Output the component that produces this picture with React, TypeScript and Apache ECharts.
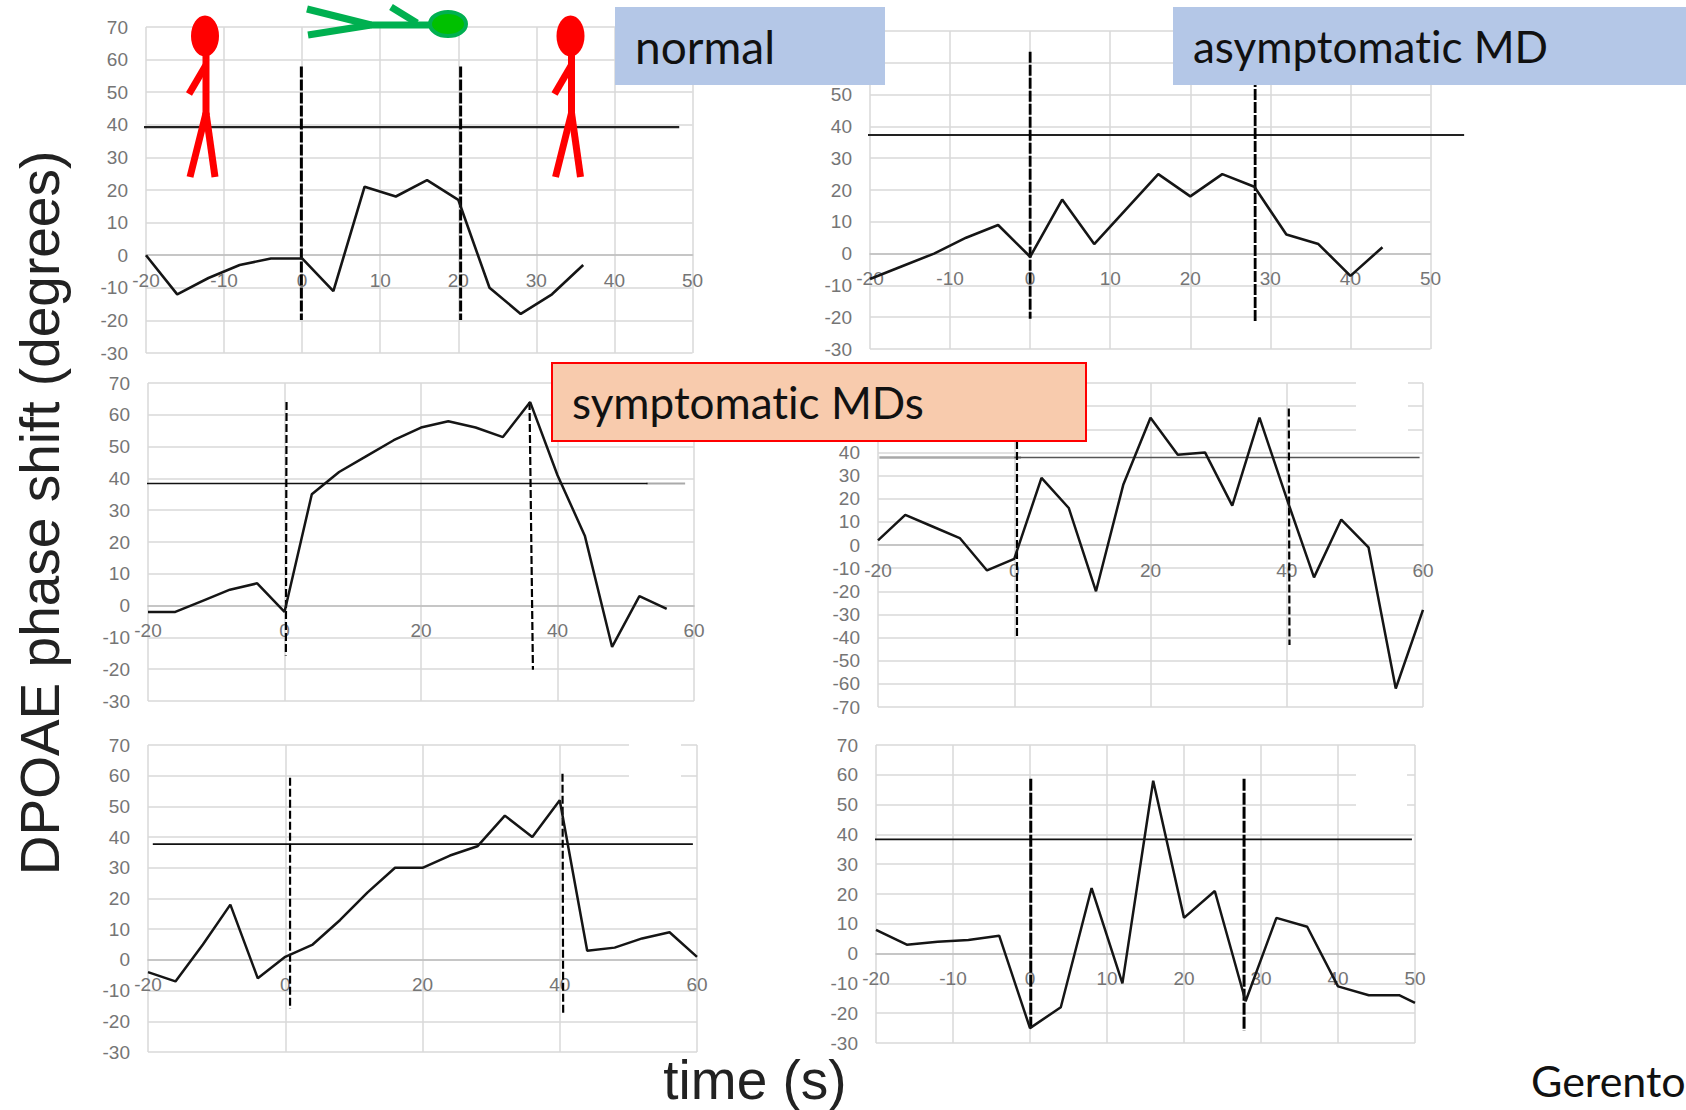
import React, { useEffect, useRef } from "react";
import * as echarts from "echarts";

// sampling times (s)
const timesTo36 = [-20, -16, -12, -8, -4, 0, 4, 8, 12, 16, 20, 24, 28, 32, 36];
const timesTo44 = [-20, -16, -12, -8, -4, 0, 4, 8, 12, 16, 20, 24, 28, 32, 36, 40, 44];
const timesTo56 = [-20, -16, -12, -8, -4, 0, 4, 8, 12, 16, 20, 24, 28, 32, 36, 40, 44, 48, 52, 56];
const timesTo60 = [-20, -16, -12, -8, -4, 0, 4, 8, 12, 16, 20, 24, 28, 32, 36, 40, 44, 48, 52, 56, 60];
const timesTo50 = [-20, -16, -12, -8, -4, 0, 4, 8, 12, 16, 20, 24, 28, 32, 36, 40, 44, 48, 50];

// phase shift (degrees)
const normalValues = [0, -12, -7, -3, -1, -1, -11, 21, 18, 23, 17, -10, -18, -12, -3];
const asymptomaticValues = [-8, -4, 0, 5, 9, -1, 17, 3, 14, 25, 18, 25, 21, 6, 3, -7, 2];
const symptomaticAValues = [-2, -2, 1.5, 5, 7, -2, 35, 42, 47, 52, 56, 58, 56, 53, 64, 41, 22, -13, 3, -1];
const symptomaticBValues = [2, 13, 8, 3, -11, -6, 29, 16, -20, 26, 55, 39, 40, 17, 55, 20, -14, 11, -1, -62, -28];
const symptomaticCValues = [-4, -7, 5, 18, -6, 1, 5, 13, 22, 30, 30, 34, 37, 47, 40, 52, 3, 4, 7, 9, 1];
const symptomaticDValues = [8, 3, 4, 4.6, 6, -25, -18, 22, -10, 58, 12, 21, -16, 12, 9, -11, -14, -14, -16.5];

// horizontal reference segments: [x0, x1, level]
const normalRef = [-20.3, 48.3, 39.3];
const asymptomaticRef = [-20.3, 54.2, 37.3];
const symAGrayRef = [53, 58.7, 38.4];
const symARef = [-20.5, 53.2, 38.4];
const symBGrayRef = [-19.8, 1, 37.8];
const symBRef = [0, 59.5, 37.8];
const symCRef = [-19.3, 59.4, 37.7];
const symDRef = [-20.5, 49.6, 38.3];

// vertical event lines: [xTop, yTop, xBottom, yBottom]
const normalEvents = [[-0.1, 57.9, -0.1, -19.9], [20.3, 57.9, 20.3, -19.9]];
const asymptomaticEvents = [[0, 63.5, 0, -20.5], [28.1, 64, 28.1, -21.8]];
const symAEvents = [[0.3, 64, 0.2, -15.7], [35.9, 64, 36.4, -20.2]];
const symBEvents = [[0.4, 64, 0.4, -39.6], [40.3, 59, 40.4, -43.2]];
const symCEvents = [[0.7, 59.3, 0.7, -16], [40.4, 60.6, 40.5, -17.6]];
const symDEvents = [[0.1, 58.7, 0.1, -25], [27.8, 58.7, 27.8, -26]];

const panels = [
  { box: [146, 27, 692.5, 353], xr: [-20, 50, 10], yMin: -30, times: timesTo36, values: normalValues, refs: [[normalRef, "#222", 2.4]], events: normalEvents, ew: 3, dash: [11, 2], lw: 2.6 },
  { box: [870, 31, 1430.5, 349], xr: [-20, 50, 10], yMin: -30, times: timesTo44, values: asymptomaticValues, refs: [[asymptomaticRef, "#222", 2.2, 6]], events: asymptomaticEvents, ew: 2.8, dash: [11, 2], lw: 2.6 },
  { box: [148, 383, 694, 701], xr: [-20, 60, 20], yMin: -30, times: timesTo56, values: symptomaticAValues, refs: [[symAGrayRef, "#aaa", 1.8], [symARef, "#111", 1.6]], events: symAEvents, ew: 2.2, dash: [8, 3], lw: 2.5 },
  { box: [878, 383, 1423, 707], xr: [-20, 60, 20], yMin: -70, times: timesTo60, values: symptomaticBValues, refs: [[symBGrayRef, "#a8a8a8", 2.6], [symBRef, "#555", 1.6]], events: symBEvents, ew: 2.2, dash: [8, 3], lw: 2.5 },
  { box: [148, 745, 697, 1052], xr: [-20, 60, 20], yMin: -30, times: timesTo60, values: symptomaticCValues, refs: [[symCRef, "#111", 1.6]], events: symCEvents, ew: 2.2, dash: [8, 3], lw: 2.5 },
  { box: [876, 745, 1415, 1043], xr: [-20, 50, 10], yMin: -30, times: timesTo50, values: symptomaticDValues, refs: [[symDRef, "#111", 1.8]], events: symDEvents, ew: 3, dash: [12, 2], lw: 2.5 },
];

const GRID = "#d9d9d9";
const LABEL = "#757575";
const SANS = "Liberation Sans";

function redPerson(cx: number) {
  const stroke = { stroke: "#ff0000", lineWidth: 7 };
  const seg = (x1: number, y1: number, x2: number, y2: number) => ({
    type: "line", z: 50, shape: { x1, y1, x2, y2 }, style: stroke,
  });
  return [
    { type: "ellipse", z: 50, shape: { cx, cy: 36, rx: 14, ry: 20.5 }, style: { fill: "#ff0000" } },
    seg(cx + 1, 50, cx + 1, 115),
    seg(cx + 1, 65, cx - 16, 94),
    seg(cx + 1, 113, cx - 15, 177),
    seg(cx + 1, 113, cx + 10, 177),
  ];
}

function greenPerson() {
  const stroke = { stroke: "#00b050", lineWidth: 7 };
  const seg = (x1: number, y1: number, x2: number, y2: number) => ({
    type: "line", z: 50, shape: { x1, y1, x2, y2 }, style: stroke,
  });
  return [
    seg(371, 25, 430, 25),
    seg(371, 25, 307, 9),
    seg(371, 25, 308, 35),
    seg(417, 23, 391, 7),
    { type: "ellipse", z: 50, shape: { cx: 448, cy: 24, rx: 18, ry: 12 }, style: { fill: "#00c000", stroke: "#00b050", lineWidth: 4 } },
  ];
}

function labelBox(x: number, y: number, w: number, h: number, fill: string, text: string, size: number, border?: string) {
  return [
    { type: "rect", z: 60, shape: { x, y, width: w, height: h }, style: { fill, stroke: border || undefined, lineWidth: border ? 2 : 0 } },
    { type: "text", z: 61, x: x + 20, y: y + h / 2, style: { text, fill: "#111", font: `${size}px Lato`, textVerticalAlign: "middle", textAlign: "left" } },
  ];
}

export default function App() {
  const ref = useRef<HTMLDivElement>(null);
  useEffect(() => {
    document.body.style.margin = "0";
    document.body.style.overflow = "hidden";
    const chart = echarts.init(ref.current!, undefined, { renderer: "svg" });
    const series: any[] = [];
    panels.forEach((p, i) => {
      p.refs.forEach((r: any) => {
        const [x0, x1, level] = r[0];
        const axisIdx = r[3] ?? i;
        series.push({
          type: "line", xAxisIndex: axisIdx, yAxisIndex: axisIdx, clip: false, symbol: "none", z: 3,
          data: [[x0, level], [x1, level]], lineStyle: { color: r[1], width: r[2] },
        });
      });
      p.events.forEach((e) => {
        series.push({
          type: "line", xAxisIndex: i, yAxisIndex: i, clip: false, symbol: "none", z: 4,
          data: [[e[0], e[1]], [e[2], e[3]]], lineStyle: { color: "#000", width: p.ew, type: p.dash },
        });
      });
      series.push({
        type: "line", xAxisIndex: i, yAxisIndex: i, clip: false, symbol: "none", z: 5,
        data: p.times.map((t, k) => [t, p.values[k]]), lineStyle: { color: "#151515", width: p.lw },
      });
    });
    const b = panels[1].box;
    chart.setOption({
      animation: false,
      grid: [
        ...panels.map((p) => ({
          left: p.box[0], top: p.box[1], width: p.box[2] - p.box[0], height: p.box[3] - p.box[1], containLabel: false,
        })),
        // hidden wider scale: the asymptomatic reference line runs past the panel's x-axis end
        { left: b[0], top: b[1], width: ((b[2] - b[0]) * 80) / 70, height: b[3] - b[1] },
      ],
      xAxis: [
        ...panels.map((p, i) => {
          const zeroDist = ((p.box[3] - p.box[1]) * -p.yMin) / (70 - p.yMin);
          return {
            type: "value", gridIndex: i, min: p.xr[0], max: p.xr[1], interval: p.xr[2],
            axisLine: { show: true, onZero: true, lineStyle: { color: "#bdbdbd", width: 1.6 } },
            axisTick: { show: false },
            axisLabel: { color: LABEL, fontFamily: SANS, fontSize: 19, margin: 15.5 - zeroDist },
            splitLine: { show: true, lineStyle: { color: GRID, width: 1.5 } },
          };
        }),
        { type: "value", gridIndex: 6, min: -20, max: 60, interval: 10, show: false },
      ],
      yAxis: [
        ...panels.map((p, i) => ({
          type: "value", gridIndex: i, min: p.yMin, max: 70, interval: 10,
          axisLine: { show: false, onZero: false },
          axisTick: { show: false },
          axisLabel: { color: LABEL, fontFamily: SANS, fontSize: 19, margin: 18 },
          splitLine: { show: true, lineStyle: { color: GRID, width: 1.5 } },
        })),
        { type: "value", gridIndex: 6, min: -30, max: 70, interval: 10, show: false },
      ],
      series,
      graphic: [
        // gaps in the gridlines of the source image
        { type: "rect", z: 1, shape: { x: 1356, y: 381, width: 52, height: 50 }, style: { fill: "#fff" } },
        { type: "rect", z: 1, shape: { x: 629, y: 741, width: 52, height: 38 }, style: { fill: "#fff" } },
        { type: "rect", z: 1, shape: { x: 1356, y: 773, width: 51, height: 36 }, style: { fill: "#fff" } },
        ...redPerson(205),
        ...redPerson(570.5),
        ...greenPerson(),
        ...labelBox(615, 7, 270, 78, "#b4c7e7", "normal", 46),
        ...labelBox(1173, 7, 513, 78, "#b4c7e7", "asymptomatic MD", 44),
        ...labelBox(552, 363, 534, 78, "#f8cbad", "symptomatic MDs", 44, "#ff0000"),
        {
          type: "text", z: 70, x: 40, y: 513, rotation: Math.PI / 2,
          style: { text: "DPOAE phase shift (degrees)", fill: "#222", font: `55px "${SANS}"`, textAlign: "center", textVerticalAlign: "middle" },
        },
        {
          type: "text", z: 70, x: 755, y: 1080,
          style: { text: "time (s)", fill: "#222", font: `55px "${SANS}"`, textAlign: "center", textVerticalAlign: "middle" },
        },
        {
          type: "text", z: 70, x: 1531, y: 1080,
          style: { text: "Gerento", fill: "#111", font: "43px Lato", textAlign: "left", textVerticalAlign: "middle" },
        },
      ],
    });
    return () => chart.dispose();
  }, []);
  return (
    <>
      <style>{"svg text { font-variant-ligatures: none !important; }"}</style>
      <div ref={ref} style={{ position: "absolute", left: 0, top: 0, width: 1686, height: 1110 }} />
    </>
  );
}
